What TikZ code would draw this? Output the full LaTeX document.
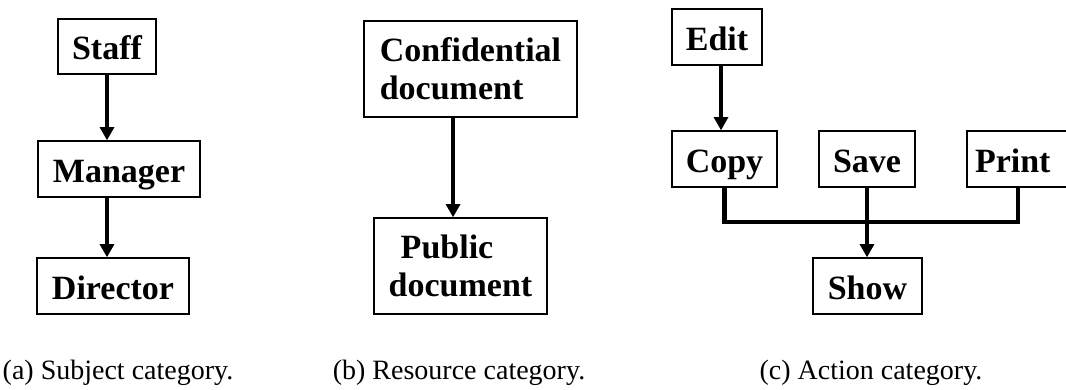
\documentclass[tikz,border=0pt]{standalone}
\usepackage{fontspec}
\setmainfont{Liberation Serif}
\usetikzlibrary{arrows.meta}
\begin{document}
\begin{tikzpicture}[x=0.75pt,y=-0.75pt,
  boxframe/.style={draw,line width=1pt,inner sep=0pt,font=\fontsize{25.5pt}{28.5pt}\selectfont\bfseries},
  box/.style={boxframe,text height=19.5pt,text depth=0pt},
  tallbox/.style={boxframe,align=left},
  flow/.style={line width=3.6pt},
  flowarrow/.style={flow,-{Triangle[width=10.5pt,length=10pt]}},
  caption/.style={font=\fontsize{21pt}{25pt}\selectfont,anchor=base,inner sep=0pt}]
\useasboundingbox (0,0) rectangle (1066,389);

% (a) subject hierarchy
\node[box,minimum width=98*0.75pt,minimum height=55*0.75pt] (staff) at (107,46.5) {Staff};
\node[box,minimum width=162*0.75pt,minimum height=56*0.75pt] (manager) at (119,169) {Manager};
\node[box,minimum width=152*0.75pt,minimum height=56*0.75pt] (director) at (113,286) {Director};
\draw[flowarrow] (staff.south) -- (staff.south |- manager.north);
\draw[flowarrow] (manager.south -| staff.south) -- (staff.south |- director.north);

% (b) resource hierarchy
\node[tallbox,minimum width=213*0.75pt,minimum height=96*0.75pt] (conf) at (470.5,69) {Confidential\\document};
\node[tallbox,minimum width=173*0.75pt,minimum height=96*0.75pt] (public) at (460.5,266) {\hspace{9pt}Public\\document};
\draw[flowarrow] ([xshift=-13.1pt]conf.south) -- ([xshift=-13.1pt]conf.south |- public.north);

% (c) action hierarchy
\node[box,minimum width=90*0.75pt,minimum height=56*0.75pt] (edit) at (717,37) {Edit};
\node[box,minimum width=105*0.75pt,minimum height=56*0.75pt] (copy) at (724.5,159) {Copy};
\node[box,minimum width=96*0.75pt,minimum height=56*0.75pt] (save) at (867,159) {Save};
\node[box,minimum width=101*0.75pt,minimum height=56*0.75pt,text width=101*0.75pt,align=left] (print) at (1017.5,159) {\hspace{6pt}Print};
\node[box,minimum width=109*0.75pt,minimum height=56*0.75pt] (show) at (867.5,286) {Show};
\draw[flowarrow] ([xshift=3pt]edit.south) -- ([xshift=3pt]edit.south |- copy.north);
\coordinate (join) at (867,222);
\draw[flow,line join=miter] (copy.south) -- (copy.south |- join) -- ([xshift=0.4pt]print.south |- join) -- ([xshift=0.4pt]print.south);
\draw[flowarrow] (save.south) -- (save.south |- show.north);

% captions
\node[caption] (capa) at (118,379) {(a) Subject category.};
\node[caption] (capb) at (459,379) {(b) Resource category.};
\node[caption] (capc) at (871,379) {(c) Action category.};
\end{tikzpicture}
\end{document}
